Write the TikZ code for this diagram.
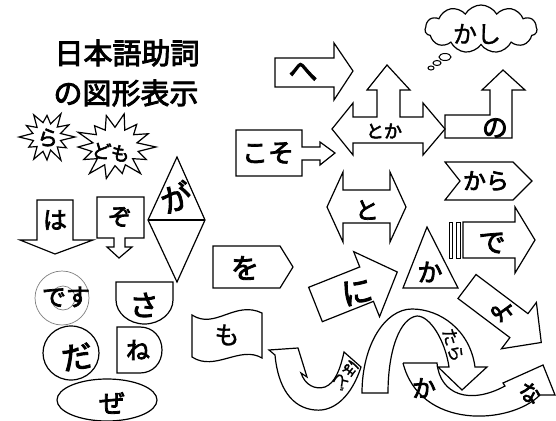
\documentclass[tikz,border=0pt]{standalone}
\usepackage{fontspec}
\setmainfont{Noto Sans CJK JP}
\newfontfamily\jb{Noto Sans CJK JP}[FakeBold=3]
\newfontfamily\jm{Noto Sans CJK JP}[FakeBold=1.2]
\usetikzlibrary{shapes.symbols,shapes.geometric}
\tikzset{
  shp/.style={draw=black, line width=1.2pt, line join=miter},
  lbl/.style={inner sep=0pt, font=\jb\fontsize{#1pt}{#1pt}\selectfont},
  lbl/.default=24,
  lblm/.style={inner sep=0pt, font=\jm\fontsize{#1pt}{#1pt}\selectfont},
  lblm/.default=20
}
\begin{document}
\begin{tikzpicture}[x=1pt,y=-1pt]
\useasboundingbox (0,0) rectangle (556,420);
\fill[white] (0,0) rectangle (556,420);
% title
\node[lbl=29] (t1) at (127,53) {日本語助詞};
\node[lbl=29] (t2) at (126,93) {の図形表示};
% starbursts
\draw[shp, shift={(47,137)}, xscale=28, yscale=27] (0:1) -- (15:0.5) -- (30:0.8) -- (45:0.52) -- (60:1) -- (75:0.5) -- (90:0.85) -- (105:0.55) -- (120:0.95) -- (135:0.5) -- (150:0.75) -- (165:0.5) -- (180:1) -- (195:0.52) -- (210:0.85) -- (225:0.5) -- (240:0.95) -- (255:0.55) -- (270:0.8) -- (285:0.5) -- (300:1) -- (315:0.52) -- (330:0.9) -- (345:0.5) -- cycle;
\node[lbl=21, rotate=-10] (rat) at (48,138) {ら};
\draw[shp, shift={(115,147)}, xscale=41, yscale=34] (0:1) -- (12.9:0.58) -- (25.7:0.85) -- (38.6:0.55) -- (51.4:1) -- (64.3:0.58) -- (77.1:0.8) -- (90:0.55) -- (102.9:0.95) -- (115.7:0.58) -- (128.6:1) -- (141.4:0.55) -- (154.3:0.85) -- (167.1:0.58) -- (180:0.9) -- (192.9:0.55) -- (205.7:1) -- (218.6:0.58) -- (231.4:0.8) -- (244.3:0.55) -- (257.1:0.95) -- (270:0.58) -- (282.9:1) -- (295.7:0.55) -- (308.6:0.85) -- (321.4:0.58) -- (334.3:0.9) -- (347.1:0.55) -- cycle;
\node[lbl=19, rotate=-8] (domot) at (111,152) {ども};
% ha
\draw[shp] (37,200) -- (73,200) -- (73,240) -- (93,240) -- (55,254) -- (20,240) -- (37,240) -- cycle;
\node[lbl=24] (ha) at (55,220) {は};
% zo
\draw[shp] (97,197) -- (144,197) -- (144,238) -- (125,238) -- (125,247) -- (132,247) -- (119,258) -- (107,247) -- (114,247) -- (114,238) -- (97,238) -- cycle;
\node[lbl=24] (zo) at (120,217) {ぞ};
% ga diamond
\draw[shp] (177,157) -- (205,220) -- (177,282) -- (148,220) -- cycle;
\draw[shp] (148,220) -- (205,220);
\node[lbl=31, rotate=20] (ga) at (176,197) {が};
% koso
\draw[shp] (236,130) -- (302,130) -- (302,147) -- (320,147) -- (320,142) -- (335,153) -- (320,165) -- (320,160) -- (302,160) -- (302,176) -- (236,176) -- cycle;
\node[lbl=26] (koso) at (268,153) {こそ};
% he
\draw[shp] (275,58) -- (334,58) -- (334,43) -- (353,71) -- (334,100) -- (334,87) -- (275,87) -- cycle;
\node[lbl=29] (he) at (303,72) {へ};
% toka
\draw[shp] (332,129) -- (353,103) -- (353,117) -- (377,117) -- (377,90) -- (367,90) -- (387,65) -- (410,90) -- (400,90) -- (400,117) -- (423,117) -- (423,103) -- (445,129) -- (423,155) -- (423,143) -- (353,143) -- (353,155) -- cycle;
\node[lbl=18] (toka) at (384,131) {とか};
% no
\draw[shp] (445,115) -- (490,115) -- (490,90) -- (482,90) -- (503,70) -- (525,90) -- (512,90) -- (512,138) -- (445,138) -- cycle;
\node[lbl=26] (no) at (495,128) {の};
% kashi cloud
\node[shp, cloud, cloud puffs=11, cloud puff arc=120, aspect=2.3, minimum width=112pt, minimum height=48pt, inner sep=0pt] (kashi) at (481,29) {};
\node[lblm=24] (kashit) at (477,34) {かし};
\draw[shp, line width=1pt] (445,57) ellipse[x radius=6pt, y radius=3.5pt];
\draw[shp, line width=1pt] (437,63) ellipse[x radius=4pt, y radius=2.5pt];
\draw[shp, line width=1pt] (431,68) ellipse[x radius=3pt, y radius=2pt];
% kara
\draw[shp] (445,162) -- (513,162) -- (532,181) -- (513,200) -- (445,200) -- (460,181) -- cycle;
\node[lbl=23] (kara) at (486,181) {から};
% to double arrow
\draw[shp] (327,207) -- (343,172) -- (343,190) -- (390,190) -- (390,172) -- (406,207) -- (390,242) -- (390,223) -- (343,223) -- (343,242) -- cycle;
\node[lbl=24] (to) at (367,210) {と};
% de
\draw[shp] (463,222) -- (515,222) -- (515,207) -- (535,240) -- (515,273) -- (515,258) -- (463,258) -- cycle;
\draw[shp, line width=1pt] (449,222) rectangle (452.5,258);
\draw[shp, line width=1pt] (456,222) rectangle (460,258);
\node[lbl=27] (de) at (492,243) {で};
% wo
\draw[shp] (213,246) -- (280,246) -- (293,267) -- (280,288) -- (213,288) -- cycle;
\node[lbl=28] (wo) at (245,268) {を};
% ni arrow
\draw[shp, shift={(315.5,304.5)}, rotate=21.7] (0,-18.5) -- (55,-18.5) -- (55,-35) -- (88,0) -- (55,35) -- (55,18.5) -- (0,18.5) -- cycle;
\node[lbl=31, rotate=12] (ni) at (357,292) {に};
% ka triangle
\draw[shp] (427,227) -- (458,288) -- (403,288) -- cycle;
\node[lbl=25] (ka) at (430,272) {か};
% yo arrow
\draw[shp, shift={(467,286.5)}, rotate=-37] (0,-15) -- (65,-15) -- (65,-29) -- (93,0) -- (65,29) -- (65,15) -- (0,15) -- cycle;
\node[lbl=24, rotate=-55] (yo) at (503,311) {よ};
% desu
\draw[gray, line width=0.7pt] (62,298) circle[radius=27pt];
\draw[gray, line width=0.7pt] (63,298) circle[radius=12pt];
\node[lbl=24] (desu) at (66,297) {です};
% da
\draw[shp] (71,353) ellipse[x radius=28pt, y radius=27pt];
\node[lbl=31, rotate=8] (da) at (77,357) {だ};
% ze
\draw[shp] (107,400) ellipse[x radius=50pt, y radius=21pt];
\node[lbl=26] (ze) at (112,403) {ぜ};
% sa
\draw[shp] (116,282) -- (173,282) -- (173,300) .. controls (173,313) and (160,324) .. (144.5,324) .. controls (129,324) and (116,313) .. (116,300) -- cycle;
\node[lbl=29] (sa) at (144,305) {さ};
% ne
\draw[shp] (117,327) -- (140,327) .. controls (153,327) and (162,337) .. (162,350) .. controls (162,363) and (153,373) .. (140,373) -- (117,373) -- cycle;
\node[lbl=24] (ne) at (138,350) {ね};
% mo
\draw[shp] (192,315) .. controls (215,330) and (235,300) .. (262,313) -- (262,358) .. controls (240,345) and (215,372) .. (192,357) -- cycle;
\node[lblm=25] (mo) at (227,335) {も};
% hodo (U-turn arrow)
\draw[shp] (269,350) -- (298,348) -- (307,377) -- (301,373) .. controls (305,385) and (315,390) .. (325,387) .. controls (335,383) and (340,370) .. (344,352) -- (361,367) .. controls (352,395) and (335,412) .. (315,410) .. controls (292,408) and (278,388) .. (275,355) -- cycle;
\node[lblm=16, rotate=-128] (hodo) at (346,375) {ほど};
% arch tara
\draw[shp] (362,393) .. controls (362,345) and (385,309) .. (412,309) .. controls (440,309) and (470,330) .. (475,367) -- (487,367) -- (462,390) -- (438,367) -- (449,367) .. controls (445,340) and (430,316) .. (417,316) .. controls (400,318) and (388,350) .. (388,393) -- cycle;
\node[lblm=17, rotate=-72] (tara) at (453,345) {たら};
% ka band + na head
\draw[shp] (403,363) -- (437,363) .. controls (440,395) and (470,405) .. (505,386) -- (503,383) -- (543,365) -- (555,395) -- (540,395) .. controls (510,425) and (420,430) .. (403,363);
\node[lbl=24] (kab) at (424,388) {か};
\node[lbl=22, rotate=-30] (na) at (530,393) {な};
\end{tikzpicture}
\end{document}
